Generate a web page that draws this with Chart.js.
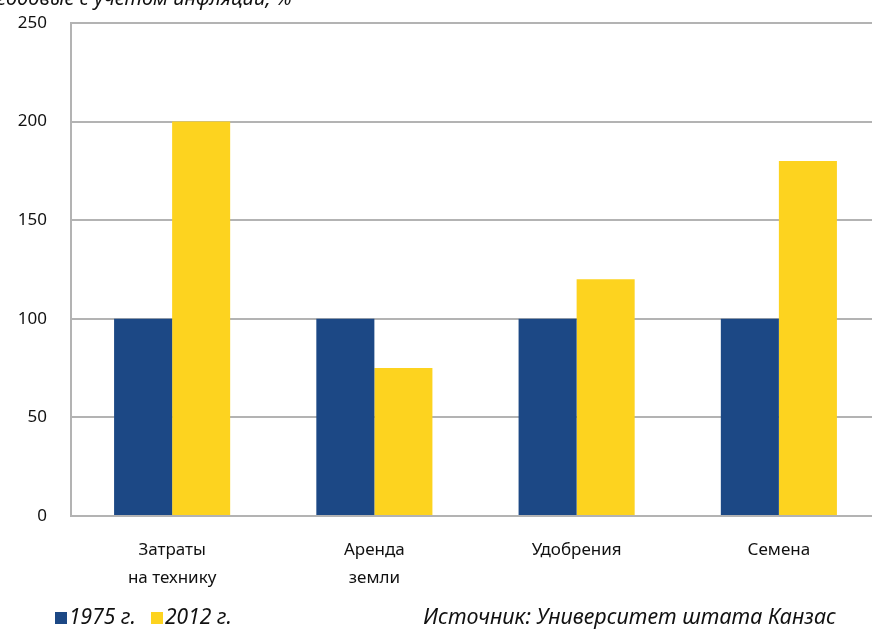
<!DOCTYPE html>
<html>
<head>
<meta charset="utf-8">
<script src="https://cdn.jsdelivr.net/npm/chart.js@4/dist/chart.umd.min.js"></script>
<style>
  html, body { margin: 0; padding: 0; background: #fff; overflow: hidden; width: 872px; height: 629px; }
  #wrap { position: absolute; left: 0; top: 0; width: 900px; height: 629px; }
</style>
</head>
<body>
<div id="wrap"><canvas id="c" width="900" height="629"></canvas></div>
<script>
// Cost indices by item (1975 = 100)
const categories = [["Затраты", "на технику"], ["Аренда", "земли"], "Удобрения", "Семена"];
const seriesLabels = ["1975 г.", "2012 г."];
const values1975 = [100, 100, 100, 100];
const values2012 = [200, 75, 120, 180];
const yTicks = [0, 50, 100, 150, 200, 250];

const BLUE = "#1c4885";
const YELLOW = "#fdd31f";
const GRID = "#b3b3b3";
const FONT = "'Noto Sans', 'Open Sans', sans-serif";

const subtitle = "годовые с учетом инфляции, %";
const source = "Источник: Университет штата Канзас";

const decorations = {
  id: "decorations",
  afterDraw(chart) {
    const ctx = chart.ctx;
    ctx.save();
    ctx.fillStyle = "#111";
    ctx.textBaseline = "alphabetic";
    // partially visible subtitle at the top edge
    ctx.font = "italic 20px " + FONT;
    ctx.textAlign = "left";
    ctx.fillText(subtitle, -3, 5);
    // legend
    const ds = chart.data.datasets;
    let x = 55;
    const y = 624;
    ctx.font = "italic 21px " + FONT;
    ds.forEach((d, i) => {
      ctx.fillStyle = d.backgroundColor;
      ctx.fillRect(x, y - 12, 12, 12);
      ctx.fillStyle = "#111";
      ctx.fillText(d.label, x + 14, y);
      x += 96;
    });
    // source note
    ctx.font = "italic 21.5px " + FONT;
    ctx.textAlign = "right";
    ctx.fillText(source, 836, y);
    ctx.restore();
  }
};

new Chart(document.getElementById("c"), {
  type: "bar",
  data: {
    labels: categories,
    datasets: [
      { label: seriesLabels[0], data: values1975, backgroundColor: BLUE },
      { label: seriesLabels[1], data: values2012, backgroundColor: YELLOW }
    ]
  },
  options: {
    responsive: false,
    animation: false,
    devicePixelRatio: 1,
    layout: { padding: { top: 23, left: 0, right: 20, bottom: 0 } },
    datasets: { bar: { categoryPercentage: 0.574, barPercentage: 1.0 } },
    plugins: { legend: { display: false }, tooltip: { enabled: false } },
    scales: {
      x: {
        grid: { display: false, drawTicks: false },
        border: { display: true, color: GRID, width: 2 },
        ticks: { color: "#111", font: { family: FONT, size: 17, lineHeight: 1.65 }, padding: 20, maxRotation: 0, autoSkip: false },
        afterFit(scale) { scale.height = 113; }
      },
      y: {
        min: 0, max: 250,
        afterBuildTicks(scale) { scale.ticks = yTicks.map(v => ({ value: v })); },
        grid: { color: GRID, lineWidth: 2, drawTicks: false },
        border: { display: true, color: GRID, width: 2 },
        ticks: { color: "#111", font: { family: FONT, size: 17 }, padding: 24 },
        afterFit(scale) { scale.width = 71; scale.paddingTop = 0; }
      }
    }
  },
  plugins: [decorations]
});
</script>
</body>
</html>
